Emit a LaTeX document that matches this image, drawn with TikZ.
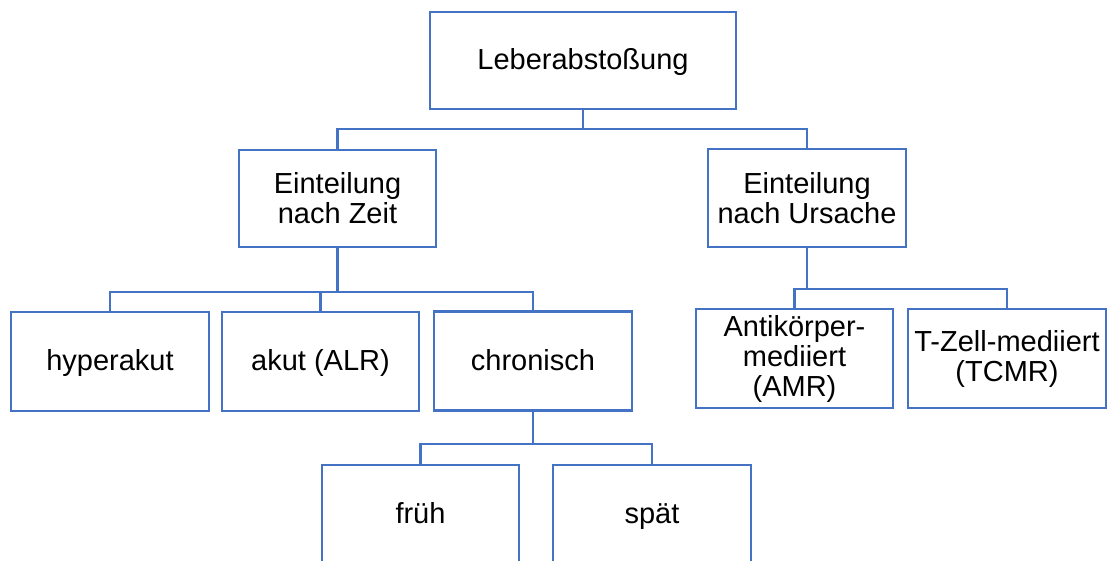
\documentclass[tikz,border=0pt]{standalone}
\usepackage{fontspec}
\setmainfont{Liberation Sans}
\usetikzlibrary{calc}
\definecolor{boxblue}{RGB}{68,114,196}
\begin{document}
\begin{tikzpicture}[x=1pt,y=-1pt,
  box/.style={draw=boxblue,line width=2.9pt,minimum width=198pt,minimum height=98pt,
    inner sep=0pt,align=center,font=\fontsize{29}{30}\selectfont,text=black},
  oneline/.style={text height=24pt,text depth=6pt},
  conn/.style={draw=boxblue,line width=2.9pt}]
\useasboundingbox (0,0) rectangle (1111,560);
% boxes
\node[box,oneline,minimum width=306pt,minimum height=97pt] (top) at (583,60.5) {Leberabstoßung};
\node[box,minimum width=197pt,minimum height=97pt] (zeit) at (337.5,198.5) {Einteilung\\nach Zeit};
\node[box] (ursache) at (807,198) {Einteilung\\nach Ursache};
\node[box,oneline,minimum height=99pt] (hyper) at (110,361.5) {hyperakut};
\node[box,oneline,minimum width=197pt,minimum height=99pt] (akut) at (320.5,361.5) {akut (ALR)};
\node[box,oneline,minimum height=99pt] (chron) at (533,361) {chronisch};
\node[box,minimum width=197pt,minimum height=99pt] (amr) at (794.5,358.5) {Antikörper-\\mediiert\\(AMR)};
\node[box,minimum height=99pt] (tcmr) at (1007,358.5) {T-Zell-mediiert\\(TCMR)};
\node[box,oneline,minimum width=197pt,minimum height=99pt] (frueh) at (420.5,514.5) {früh};
\node[box,oneline,minimum height=99pt] (spaet) at (652,514.5) {spät};
% bus levels
\coordinate (busA) at (0,129);
\coordinate (busB) at (0,292);
\coordinate (busC) at (0,289);
\coordinate (busD) at (0,444);
% connectors
\draw[conn] (top.south) -- (top.south |- busA);
\draw[conn] (zeit.north) |- (ursache.north |- busA) -- (ursache.north);
\draw[conn] (zeit.south) -- (zeit.south |- busB);
\draw[conn] (hyper.north) |- (chron.north |- busB) -- (chron.north);
\draw[conn] (akut.north) -- (akut.north |- busB);
\draw[conn] (ursache.south) -- (ursache.south |- busC);
\draw[conn] (amr.north) |- (tcmr.north |- busC) -- (tcmr.north);
\draw[conn] (chron.south) -- (chron.south |- busD);
\draw[conn] (frueh.north) |- (spaet.north |- busD) -- (spaet.north);
\end{tikzpicture}
\end{document}
